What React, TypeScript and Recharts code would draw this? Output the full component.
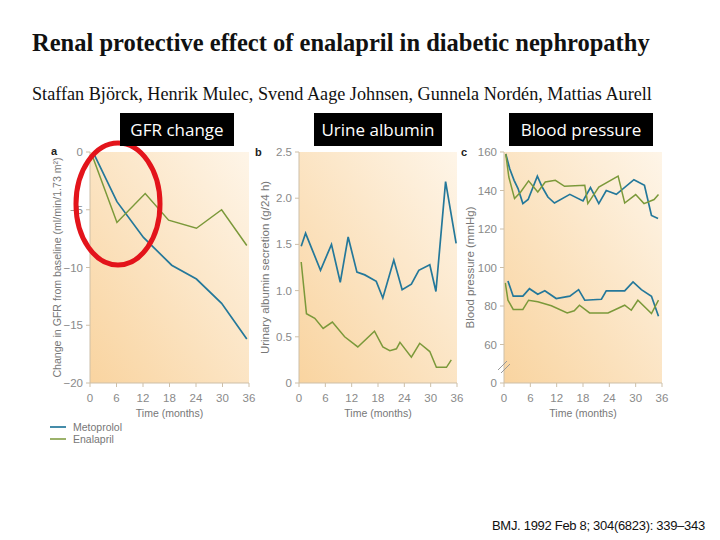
import { LineChart, Line, XAxis, YAxis, ReferenceArea } from 'recharts';

const months = [0, 6, 12, 18, 24, 30, 36];
const gfrTicks = [-20, -15, -10, -5, 0];
const albuminTicks = [0, 0.5, 1, 1.5, 2, 2.5];
const bpTicks = [40, 60, 80, 100, 120, 140, 160];

// panel a: change in GFR
const gfrMetoprolol = [
  { m: 0.8, v: -0.1 }, { m: 6.1, v: -4.3 }, { m: 12.1, v: -7.4 }, { m: 18.5, v: -9.8 },
  { m: 24.1, v: -11.0 }, { m: 29.8, v: -13.1 }, { m: 35.5, v: -16.2 },
];
const gfrEnalapril = [
  { m: 0.5, v: -0.3 }, { m: 6.1, v: -6.1 }, { m: 12.5, v: -3.6 }, { m: 17.8, v: -5.9 },
  { m: 24.1, v: -6.6 }, { m: 29.8, v: -5.0 }, { m: 35.5, v: -8.1 },
];

// panel b: urinary albumin
const albuminMetoprolol = [
  { m: 0.5, v: 1.48 }, { m: 1.5, v: 1.62 }, { m: 4.9, v: 1.22 }, { m: 7.4, v: 1.5 },
  { m: 9.4, v: 1.09 }, { m: 11.2, v: 1.58 }, { m: 13.2, v: 1.2 }, { m: 15, v: 1.17 },
  { m: 17.6, v: 1.1 }, { m: 19.1, v: 0.92 }, { m: 21.6, v: 1.33 }, { m: 23.5, v: 1.01 },
  { m: 25.6, v: 1.07 }, { m: 27.3, v: 1.22 }, { m: 29.8, v: 1.28 }, { m: 31.2, v: 0.99 },
  { m: 33.4, v: 2.18 }, { m: 35.8, v: 1.51 },
];
const albuminEnalapril = [
  { m: 0.5, v: 1.31 }, { m: 1.7, v: 0.75 }, { m: 3.6, v: 0.7 }, { m: 5.5, v: 0.59 },
  { m: 7.6, v: 0.66 }, { m: 10.4, v: 0.5 }, { m: 13.4, v: 0.39 }, { m: 17.2, v: 0.56 },
  { m: 19.1, v: 0.39 }, { m: 20.7, v: 0.35 }, { m: 22.2, v: 0.37 }, { m: 23, v: 0.44 },
  { m: 25.6, v: 0.28 }, { m: 27.5, v: 0.43 }, { m: 29.8, v: 0.34 }, { m: 31.3, v: 0.17 },
  { m: 33.6, v: 0.17 }, { m: 34.7, v: 0.25 },
];

// panel c: blood pressure (0 drawn where 40 would be, axis is broken)
const systolicMetoprolol = [
  { m: 0.4, v: 159 }, { m: 1.3, v: 151.3 }, { m: 2.3, v: 145.3 }, { m: 3.2, v: 141 },
  { m: 4.3, v: 133.2 }, { m: 5.5, v: 135.3 }, { m: 7.6, v: 147.4 }, { m: 8.7, v: 141.8 },
  { m: 10, v: 136.6 }, { m: 11.5, v: 133.5 }, { m: 15, v: 138 }, { m: 18, v: 134.6 },
  { m: 19.7, v: 141.5 }, { m: 21.6, v: 133.2 }, { m: 23.3, v: 140 }, { m: 25.6, v: 138 },
  { m: 29.6, v: 145.6 }, { m: 32, v: 142.7 }, { m: 33.6, v: 127 }, { m: 35.1, v: 125.4 },
];
const systolicEnalapril = [
  { m: 0.4, v: 159 }, { m: 1.1, v: 147 }, { m: 2.4, v: 135.8 }, { m: 3.8, v: 139.2 },
  { m: 5.6, v: 145 }, { m: 7.7, v: 139.2 }, { m: 9.4, v: 144.4 }, { m: 11.7, v: 145.3 },
  { m: 13.8, v: 142.2 }, { m: 18.4, v: 142.7 }, { m: 19.1, v: 133.2 }, { m: 21.6, v: 141.8 },
  { m: 26, v: 147.5 }, { m: 27.5, v: 133.5 }, { m: 30, v: 137.9 }, { m: 31.9, v: 133.2 },
  { m: 34.2, v: 135.3 }, { m: 35.2, v: 137.9 },
];
const diastolicMetoprolol = [
  { m: 0.9, v: 93 }, { m: 2.1, v: 85.1 }, { m: 4.3, v: 85.1 }, { m: 5.8, v: 89 },
  { m: 7.7, v: 86.1 }, { m: 9.3, v: 87.9 }, { m: 11.9, v: 83.9 }, { m: 15, v: 85.1 },
  { m: 17, v: 88.5 }, { m: 18.4, v: 83 }, { m: 22.2, v: 83.5 }, { m: 23.3, v: 87.9 },
  { m: 27.5, v: 87.9 }, { m: 29.4, v: 92.5 }, { m: 31.3, v: 88.5 }, { m: 33.6, v: 85.1 },
  { m: 35.2, v: 74.7 },
];
const diastolicEnalapril = [
  { m: 0.3, v: 92 }, { m: 0.9, v: 83 }, { m: 2.1, v: 78.2 }, { m: 4.3, v: 78.2 },
  { m: 5.6, v: 83 }, { m: 7.7, v: 82.2 }, { m: 10.8, v: 80.1 }, { m: 14.4, v: 76.4 },
  { m: 16, v: 77.5 }, { m: 17.2, v: 80.4 }, { m: 19.5, v: 76.4 }, { m: 23.7, v: 76.4 },
  { m: 27.5, v: 80.4 }, { m: 29, v: 77.8 }, { m: 30.5, v: 83 }, { m: 33.6, v: 76.1 },
  { m: 35.2, v: 83 },
];

const BLUE = '#24789a';
const GREEN = '#7b993a';
const AXIS = '#cdbfa8';
const TICK = { fill: '#8a8a8a', fontSize: 11.5, fontFamily: 'Liberation Sans, Arial' };

type Pt = { m: number; v: number };

function Panel(props: {
  id: string; left: number; width: number; yWidth: number; right: number; labelDx: number; labelSize: number;
  domain: [number, number]; ticks: number[]; fmt: (v: number) => string; yLabel: string;
  blue: Pt[][]; green: Pt[][];
}) {
  const { id, left, width, yWidth, right, labelDx, labelSize, domain, ticks, fmt, yLabel, blue, green } = props;
  return (
    <div style={{ position: 'absolute', left, top: 140 }}>
      <LineChart width={width} height={280} margin={{ top: 12, right, bottom: 3, left: 0 }}>
        <defs>
          <linearGradient id={id} x1="0" y1="1" x2="1" y2="0">
            <stop offset="0%" stopColor="#f9d4a0" />
            <stop offset="100%" stopColor="#fef5e8" />
          </linearGradient>
        </defs>
        <ReferenceArea x1={0} x2={36} y1={domain[0]} y2={domain[1]} fill={`url(#${id})`} fillOpacity={1} stroke="none" />
        <XAxis
          type="number" dataKey="m" domain={[0, 36]} ticks={months} allowDataOverflow
          axisLine={{ stroke: AXIS }} tickLine={{ stroke: AXIS }} tickSize={4} tickMargin={7}
          tick={TICK} height={34}
          label={{ value: 'Time (months)', position: 'insideBottom', offset: 0, fill: '#777', fontSize: 10.5, fontFamily: 'Liberation Sans, Arial' }}
        />
        <YAxis
          type="number" dataKey="v" domain={domain} ticks={ticks} allowDataOverflow width={yWidth}
          axisLine={{ stroke: AXIS }} tickLine={{ stroke: AXIS }} tickSize={4} tickMargin={3}
          tick={TICK} tickFormatter={fmt}
          label={{ value: yLabel, angle: -90, position: 'center', dx: labelDx, fill: '#777', fontSize: labelSize, fontFamily: 'Liberation Sans, Arial' }}
        />
        {blue.map((d, i) => (
          <Line key={`b${i}`} data={d} dataKey="v" type="linear" stroke={BLUE} strokeWidth={1.7} dot={false} isAnimationActive={false} />
        ))}
        {green.map((d, i) => (
          <Line key={`g${i}`} data={d} dataKey="v" type="linear" stroke={GREEN} strokeWidth={1.5} dot={false} isAnimationActive={false} />
        ))}
      </LineChart>
    </div>
  );
}

const boxStyle = {
  position: 'absolute' as const, top: 113, height: 33, background: '#000', color: '#fff',
  fontFamily: 'Open Sans, sans-serif', fontSize: 17, lineHeight: '33px', textAlign: 'center' as const,
};

export default function App() {
  return (
    <div style={{ position: 'absolute', left: 0, top: 0, width: 720, height: 540, background: '#fff', overflow: 'hidden' }}>
      <div style={{ position: 'absolute', left: 32, top: 29, fontFamily: 'Liberation Serif, serif', fontWeight: 'bold', fontSize: 24.5, whiteSpace: 'nowrap', color: '#111' }}>
        Renal protective effect of enalapril in diabetic nephropathy
      </div>
      <div style={{ position: 'absolute', left: 32, top: 84, fontFamily: 'Liberation Serif, serif', fontSize: 18.2, whiteSpace: 'nowrap', color: '#111' }}>
        Staffan Björck, Henrik Mulec, Svend Aage Johnsen, Gunnela Nordén, Mattias Aurell
      </div>

      <Panel id="ga" left={40} width={220} yWidth={50} right={11} labelDx={-8} labelSize={10.6}
        domain={[-20, 0]} ticks={gfrTicks} fmt={(v) => (v < 0 ? `−${Math.abs(v)}` : `${v}`)}
        yLabel="Change in GFR from baseline (ml/min/1.73 m²)"
        blue={[gfrMetoprolol]} green={[gfrEnalapril]} />
      <Panel id="gb" left={250} width={215} yWidth={49} right={8} labelDx={-10} labelSize={11.5}
        domain={[0, 2.5]} ticks={albuminTicks} fmt={(v) => (v === 0 ? '0' : v.toFixed(1))}
        yLabel="Urinary albumin secretion (g/24 h)"
        blue={[albuminMetoprolol]} green={[albuminEnalapril]} />
      <Panel id="gc" left={455} width={215} yWidth={49} right={8} labelDx={-10} labelSize={11.5}
        domain={[40, 160]} ticks={bpTicks} fmt={(v) => (v === 40 ? '0' : `${v}`)}
        yLabel="Blood pressure (mmHg)"
        blue={[systolicMetoprolol, diastolicMetoprolol]} green={[systolicEnalapril, diastolicEnalapril]} />

      <svg width={720} height={540} style={{ position: 'absolute', left: 0, top: 0, pointerEvents: 'none' }}>
        <g fontFamily="Liberation Sans, Arial" fontWeight="bold" fontSize={11} fill="#222">
          <text x={51} y={155}>a</text>
          <text x={255} y={156}>b</text>
          <text x={461} y={156}>c</text>
        </g>
        <line x1={498} y1={370} x2={507} y2={361} stroke="#999" strokeWidth={1} />
        <line x1={501} y1={373} x2={510} y2={364} stroke="#999" strokeWidth={1} />
        <line x1={50} y1={427} x2={66} y2={427} stroke={BLUE} strokeWidth={1.7} />
        <line x1={50} y1={439} x2={66} y2={439} stroke={GREEN} strokeWidth={1.5} />
        <g fontFamily="Liberation Sans, Arial" fontSize={10.5} fill="#777">
          <text x={73} y={431}>Metoprolol</text>
          <text x={73} y={443}>Enalapril</text>
        </g>
        <ellipse cx={118} cy={204} rx={42} ry={61} fill="none" stroke="#e3141b" strokeWidth={5} />
      </svg>

      <div style={{ ...boxStyle, left: 120, width: 114 }}>GFR change</div>
      <div style={{ ...boxStyle, left: 314, width: 128 }}>Urine albumin</div>
      <div style={{ ...boxStyle, left: 509, width: 144 }}>Blood pressure</div>

      <div style={{ position: 'absolute', left: 492, top: 518, fontFamily: 'Liberation Sans, Arial', fontSize: 13, letterSpacing: -0.3, color: '#111', whiteSpace: 'nowrap' }}>
        BMJ. 1992 Feb 8; 304(6823): 339–343
      </div>
    </div>
  );
}
